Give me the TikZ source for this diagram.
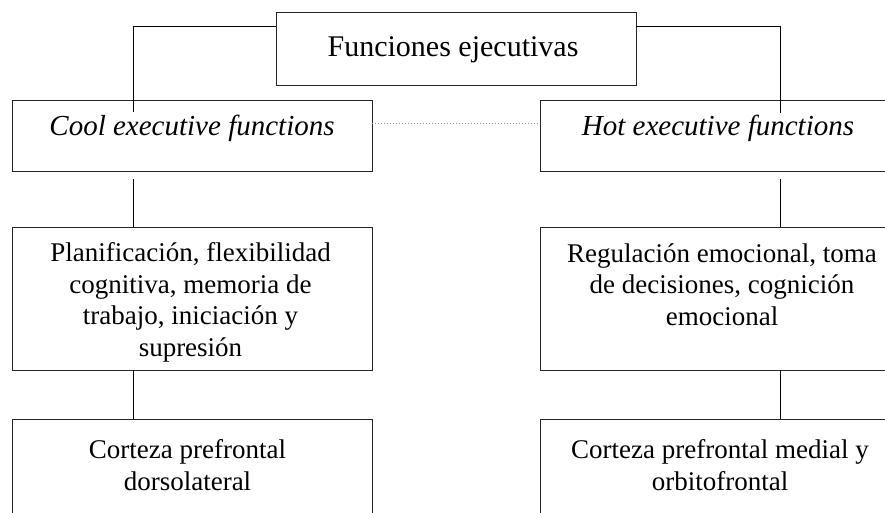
\documentclass[tikz,border=0pt]{standalone}
\usepackage{fontspec}
\setmainfont{Liberation Serif}
\begin{document}
\begin{tikzpicture}[x=1pt,y=-1pt,
  box/.style={draw=black!85, line width=1pt, inner sep=0pt, outer sep=0pt, minimum width=360pt},
  txt/.style={inner sep=0pt, align=center, font=\fontsize{27}{31.5}\selectfont},
  conn/.style={draw=black, line width=1pt},
  dots/.style={draw=black!45, line width=1pt, dotted}]
\useasboundingbox (0,0) rectangle (885,512);
\clip (0,0) rectangle (885,512);
% boxes
\node[box, minimum height=73pt]  (top)    at (456,48.5) {};
\node[box, minimum height=71.3pt] (cool)   at (192,136.3) {};
\node[box, minimum height=71.3pt] (hot)    at (720,136.3) {};
\node[box, minimum height=143pt] (planif) at (192,298.5) {};
\node[box, minimum height=143pt] (regul)  at (720,298.5) {};
\node[box, minimum height=146pt] (dorso)  at (192,492) {};
\node[box, minimum height=146pt] (orbito) at (720,492) {};
% texts
\node[txt, anchor=base, font=\fontsize{30}{32}\selectfont] (ttop) at (453,56.7) {Funciones ejecutivas};
\node[txt, anchor=base, font=\fontsize{29}{31.5}\selectfont\itshape] (tcool) at (192,135) {Cool executive functions};
\node[txt, anchor=base, font=\fontsize{29}{31.5}\selectfont\itshape] (thot) at (718,135) {Hot executive functions};
\node[txt, anchor=north] (tplanif) at (190.5,242.5) {Planificación, flexibilidad\\cognitiva, memoria de\\trabajo, iniciación y\\supresión};
\node[txt, anchor=north] (tregul) at (722,243.5) {Regulación emocional, toma\\de decisiones, cognición\\emocional};
\node[txt, anchor=north] (tdorso) at (187.5,439.5) {Corteza prefrontal\\dorsolateral};
\node[txt, anchor=north] (torbito) at (720,439.5) {Corteza prefrontal medial y\\orbitofrontal};
% connector points
\coordinate (jL) at (133,26);
\coordinate (jR) at (780,26);
\coordinate (cL) at (133,112);
\coordinate (cR) at (780,113);
% connectors
\draw[conn] (top.west |- jL) -- (jL) -- (cL);
\draw[conn] (top.east |- jR) -- (jR) -- (cR);
\draw[conn] ([yshift=-7pt]cool.south -| cL) -- (planif.north -| cL);
\draw[conn] ([yshift=-7pt]hot.south -| cR) -- (regul.north -| cR);
\draw[conn] (planif.south -| cL) -- (dorso.north -| cL);
\draw[conn] (regul.south -| cR) -- (orbito.north -| cR);
\draw[dots] ([yshift=13pt]cool.east) -- ([yshift=13pt]hot.west);
\end{tikzpicture}
\end{document}
